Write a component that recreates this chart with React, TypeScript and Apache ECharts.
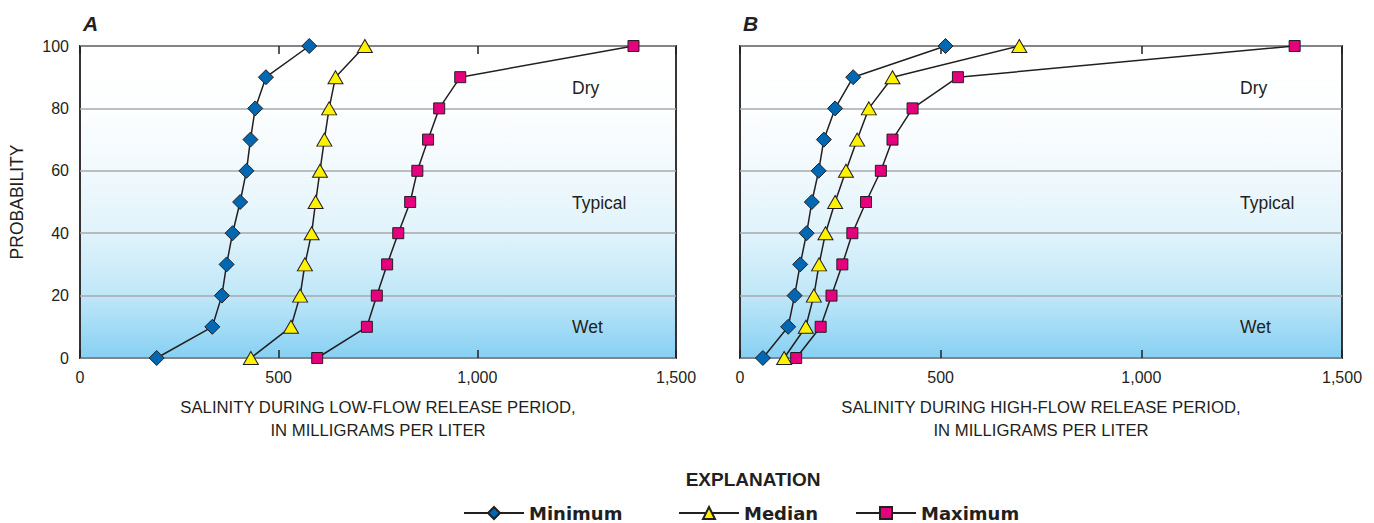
import React, { useEffect, useRef } from "react";
import * as echarts from "echarts";

const probability = [0, 10, 20, 30, 40, 50, 60, 70, 80, 90, 100];
const lowMin = [193, 333, 357, 369, 384, 403, 419, 429, 441, 468, 577];
const lowMed = [430, 531, 554, 566, 583, 593, 604, 615, 627, 643, 717];
const lowMax = [597, 722, 747, 773, 801, 831, 849, 876, 904, 957, 1393];
const highMin = [57, 120, 136, 150, 166, 179, 196, 209, 237, 282, 512];
const highMed = [110, 164, 184, 197, 213, 237, 264, 292, 321, 380, 696];
const highMax = [140, 201, 228, 255, 280, 314, 351, 380, 430, 543, 1382];
const seriesNames = ["Minimum", "Median", "Maximum"];
const xTicks = [0, 500, 1000, 1500];
const yTicks = [0, 20, 40, 60, 80, 100];
const zones = ["Dry", "Typical", "Wet"];

const FONT = "'Liberation Sans', Arial, sans-serif";
const INK = "#231f20";

export default function App() {
  const ref = useRef<HTMLDivElement>(null);
  useEffect(() => {
    document.body.style.margin = "0";
    const chart = echarts.init(ref.current!, null, { renderer: "svg" });
    const bg = new echarts.graphic.LinearGradient(0, 0, 0, 1, [
      { offset: 0, color: "#ffffff" },
      { offset: 0.2, color: "#fdfeff" },
      { offset: 0.4, color: "#f1f9fd" },
      { offset: 0.6, color: "#e0f3fb" },
      { offset: 0.8, color: "#c0e7f8" },
      { offset: 1, color: "#86d0f3" },
    ]);
    const styles = [
      { symbol: "diamond", symbolSize: 15, color: "#0068b3" },
      { symbol: "triangle", symbolSize: [15, 13], color: "#fff200" },
      { symbol: "rect", symbolSize: 11, color: "#e5007d" },
    ];
    const fmt = (v: number) => v.toLocaleString("en-US");
    const xAxisBase = (gridIndex: number, name: string) => ({
      type: "value",
      gridIndex,
      min: 0,
      max: 1500,
      interval: 500,
      position: "bottom",
      axisLine: { show: false },
      axisTick: { show: true, inside: true, length: 8, lineStyle: { color: INK, width: 1.5 } },
      splitLine: { show: false },
      axisLabel: {
        margin: 11,
        fontFamily: FONT,
        fontSize: 16,
        color: INK,
        formatter: (v: number) => (xTicks.includes(v) ? fmt(v) : ""),
      },
      name,
      nameLocation: "middle",
      nameGap: 38,
      nameTextStyle: { fontFamily: FONT, fontSize: 16.7, color: INK, lineHeight: 23 },
    });
    const xAxisTop = (gridIndex: number) => ({
      type: "value",
      gridIndex,
      min: 0,
      max: 1500,
      interval: 500,
      position: "top",
      axisLine: { show: false },
      axisTick: { show: true, inside: true, length: 8, lineStyle: { color: INK, width: 1.5 } },
      splitLine: { show: false },
      axisLabel: { show: false },
    });
    const yAxisBase = (gridIndex: number, showLabels: boolean) => ({
      type: "value",
      gridIndex,
      min: 0,
      max: 100,
      interval: 20,
      axisLine: { show: false },
      axisTick: { show: false },
      splitLine: { show: true, lineStyle: { color: "#a7a9ac", width: 1.5 } },
      axisLabel: {
        show: showLabels,
        margin: 11,
        fontFamily: FONT,
        fontSize: 16,
        color: INK,
        formatter: (v: number) => (yTicks.includes(v) ? String(v) : ""),
      },
      name: showLabels ? "PROBABILITY" : "",
      nameLocation: "middle",
      nameGap: 54,
      nameTextStyle: { fontFamily: FONT, fontSize: 17.5, color: INK },
    });
    const mk = (name: string, idx: number, grid: number, vals: number[]) => ({
      type: "line",
      name,
      xAxisIndex: grid * 2,
      yAxisIndex: grid,
      data: probability.map((p, i) => [vals[i], p]),
      symbol: styles[idx].symbol,
      symbolSize: styles[idx].symbolSize,
      clip: false,
      z: 5 + (2 - idx),
      lineStyle: { color: INK, width: 1.5 },
      itemStyle: { color: styles[idx].color, borderColor: INK, borderWidth: 1 },
    });
    const zoneY = [88, 203, 327];
    const zoneText = (x: number) =>
      zones.map((z, i) => ({
        type: "text",
        x,
        y: zoneY[i],
        style: { text: z, fontFamily: FONT, fontSize: 17.5, fill: INK, textAlign: "left", textVerticalAlign: "middle", textBaseline: "middle" },
      }));
    const legendAt = (left: number, name: string) => ({
      data: [name],
      left,
      top: 504,
      padding: 0,
      itemWidth: 60,
      itemHeight: 15,
      itemGap: 0,
      textStyle: { fontFamily: "'DejaVu Sans', sans-serif", fontWeight: "bold", fontSize: 18, color: INK },
      selectedMode: false,
    });
    chart.setOption({
      animation: false,
      backgroundColor: "#ffffff",
      grid: [
        { left: 80, top: 46, width: 596, height: 312, show: true, backgroundColor: bg, borderColor: INK, borderWidth: 1.8 },
        { left: 740, top: 46, width: 602, height: 312, show: true, backgroundColor: bg, borderColor: INK, borderWidth: 1.8 },
      ],
      xAxis: [
        xAxisBase(0, "SALINITY DURING LOW-FLOW RELEASE PERIOD,\nIN MILLIGRAMS PER LITER"),
        xAxisTop(0),
        xAxisBase(1, "SALINITY DURING HIGH-FLOW RELEASE PERIOD,\nIN MILLIGRAMS PER LITER"),
        xAxisTop(1),
      ],
      yAxis: [yAxisBase(0, true), yAxisBase(1, false)],
      legend: [legendAt(463, seriesNames[0]), legendAt(678, seriesNames[1]), legendAt(855, seriesNames[2])],
      graphic: [
        { type: "text", left: 83, top: 13, style: { text: "A", fontFamily: FONT, fontSize: 21, fontWeight: "bold", fontStyle: "italic", fill: INK } },
        { type: "text", left: 743, top: 13, style: { text: "B", fontFamily: FONT, fontSize: 21, fontWeight: "bold", fontStyle: "italic", fill: INK } },
        { type: "text", x: 753, y: 479, style: { text: "EXPLANATION", fontFamily: FONT, fontSize: 19, fontWeight: "bold", fill: INK, textAlign: "center", textVerticalAlign: "middle", textBaseline: "middle" } },
        ...zoneText(572),
        ...zoneText(1240),
      ],
      series: [
        mk(seriesNames[0], 0, 0, lowMin),
        mk(seriesNames[1], 1, 0, lowMed),
        mk(seriesNames[2], 2, 0, lowMax),
        mk(seriesNames[0], 0, 1, highMin),
        mk(seriesNames[1], 1, 1, highMed),
        mk(seriesNames[2], 2, 1, highMax),
      ],
    });
    return () => chart.dispose();
  }, []);
  return <div ref={ref} style={{ width: 1374, height: 523 }} />;
}
